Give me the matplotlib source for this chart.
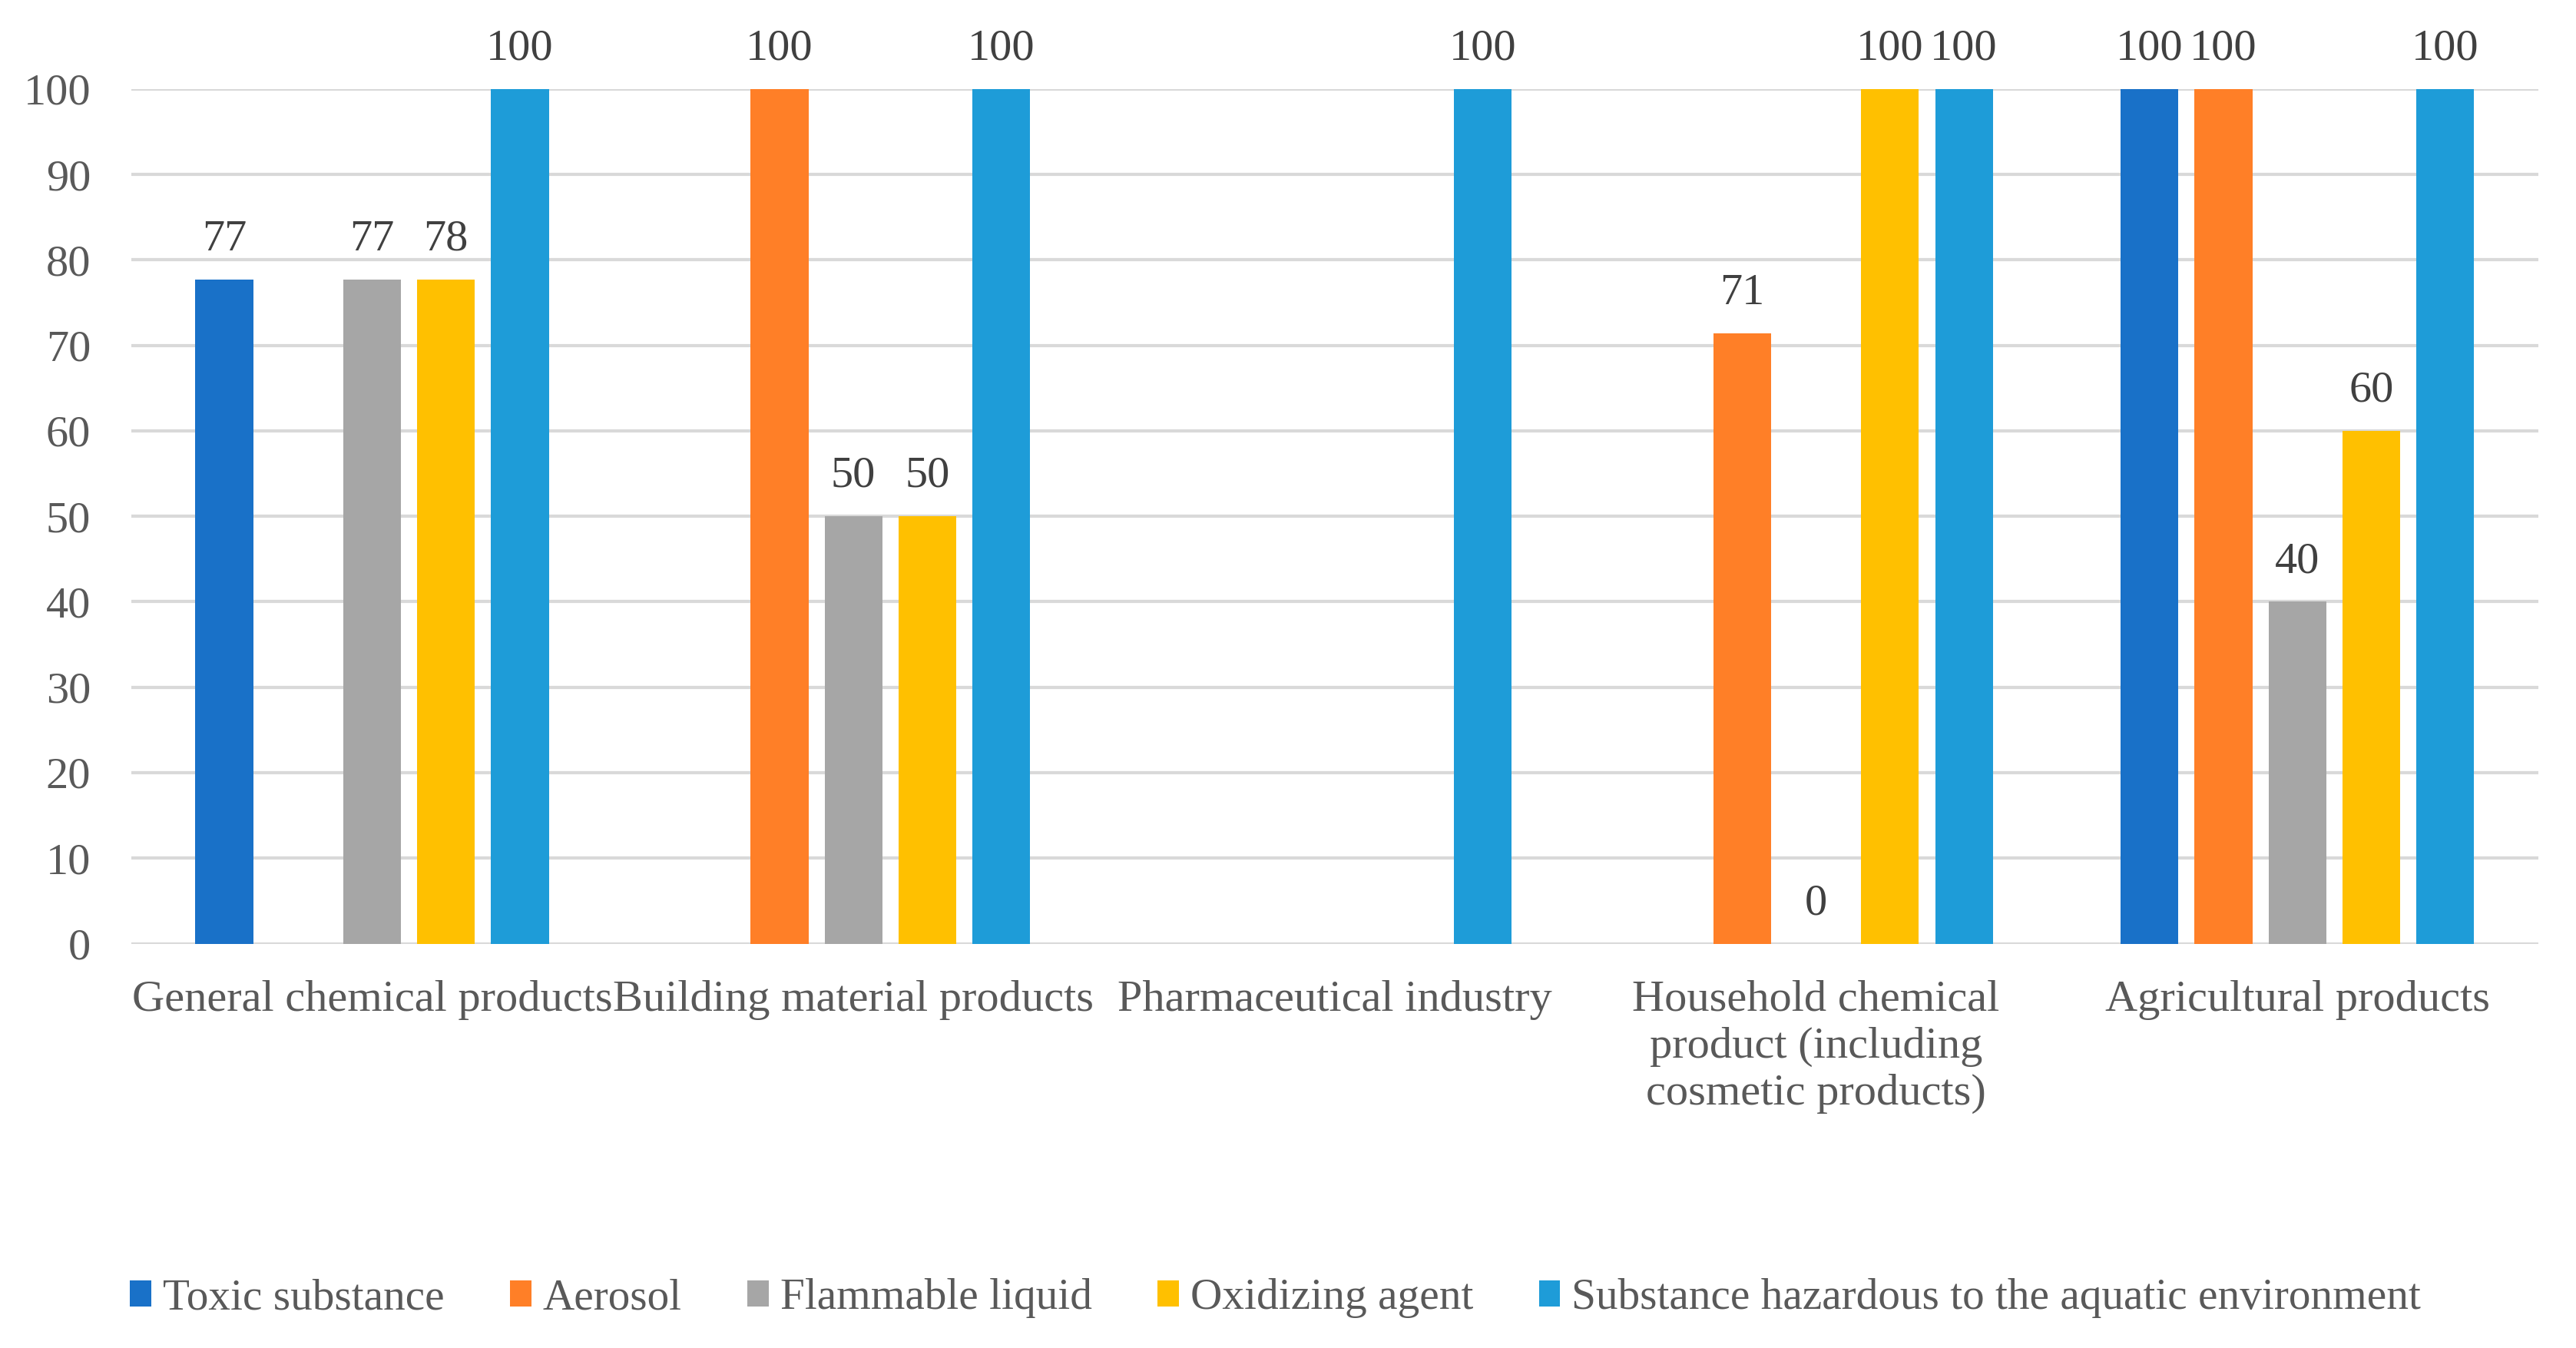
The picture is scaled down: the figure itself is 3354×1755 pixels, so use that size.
import numpy as np
import matplotlib
matplotlib.use("Agg")
import matplotlib.pyplot as plt
from matplotlib.patches import Patch

categories = ["General chemical products", "Building material products",
              "Pharmaceutical industry",
              "Household chemical\nproduct (including\ncosmetic products)",
              "Agricultural products"]
series = ["Toxic substance", "Aerosol", "Flammable liquid", "Oxidizing agent",
          "Substance hazardous to the aquatic environment"]
colors = ["#1971C8", "#FF7F27", "#A6A6A6", "#FFC000", "#1E9CD8"]

nan = np.nan
toxic = [77.7, nan, nan, nan, 100]
aerosol = [nan, 100, nan, 71.4, 100]
flammable = [77.7, 50, nan, 0, 40]
oxidizing = [77.7, 50, nan, 100, 60]
aquatic = [100, 100, 100, 100, 100]
values = [toxic, aerosol, flammable, oxidizing, aquatic]

toxic_lbl = ["77", "", "", "", "100"]
aerosol_lbl = ["", "100", "", "71", "100"]
flammable_lbl = ["77", "50", "", "0", "40"]
oxidizing_lbl = ["78", "50", "", "100", "60"]
aquatic_lbl = ["100", "100", "100", "100", "100"]
labels = [toxic_lbl, aerosol_lbl, flammable_lbl, oxidizing_lbl, aquatic_lbl]

yticks = [0, 10, 20, 30, 40, 50, 60, 70, 80, 90, 100]

plt.rcParams['font.family'] = ['Liberation Serif', 'DejaVu Serif']
FS = 21
TICK_C = "#595959"
LBL_C = "#404040"

fig = plt.figure(figsize=(16.775, 8.775), dpi=200)
ax = fig.add_axes([0.051, 0.300, 0.934, 0.634])

x = np.arange(len(categories))
step = 0.1536
width = 0.12
for i, (vals, lbls, c) in enumerate(zip(values, labels, colors)):
    pos = x + (i - 2) * step
    v = np.array(vals, dtype=float)
    ax.bar(pos, np.nan_to_num(v), width=width, color=c, zorder=3, label=series[i])
    for p, val, lb in zip(pos, v, lbls):
        if lb and not np.isnan(val):
            ax.annotate(lb, (p, val), xytext=(0, 9.5), textcoords="offset points",
                        ha="center", va="bottom", fontsize=FS, color=LBL_C,
                        annotation_clip=False)

ax.set_xlim(-0.5, len(categories) - 0.5)
ax.set_ylim(0, 100)
ax.set_yticks(yticks)
ax.set_yticklabels([str(t) for t in yticks])
ax.set_xticks(x)
ax.set_xticklabels(categories, linespacing=1.22, va="top")
ax.tick_params(axis="both", length=0, labelsize=FS, colors=TICK_C)
ax.tick_params(axis="y", pad=19)
ax.tick_params(axis="x", pad=17)
for s in ax.spines.values():
    s.set_visible(False)
ax.grid(axis="y", color="#D9D9D9", linewidth=1.5, zorder=0)
ax.set_axisbelow(True)

handles = [Patch(facecolor=c, edgecolor="none") for c in colors]
leg = fig.legend(handles, series, loc="center", bbox_to_anchor=(0.495, 0.037),
                 ncol=5, frameon=False, fontsize=20.6, handlelength=0.48,
                 handleheight=0.55, handletextpad=0.26, columnspacing=1.5,
                 labelcolor=TICK_C)

fig.savefig("out.png", dpi=200, facecolor="white")
